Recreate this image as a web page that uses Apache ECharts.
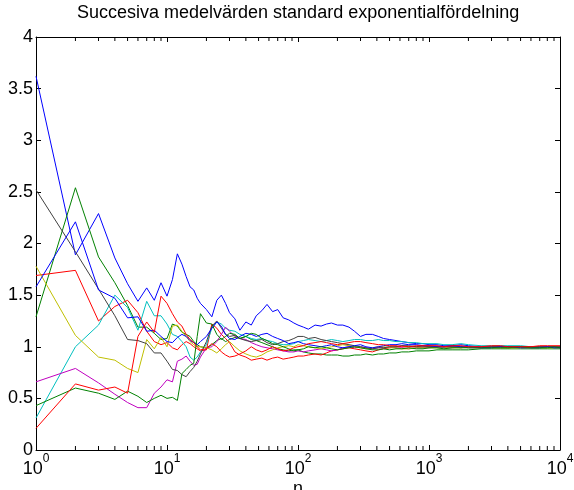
<!DOCTYPE html>
<html>
<head>
<meta charset="utf-8">
<script src="https://cdn.jsdelivr.net/npm/echarts@6/dist/echarts.min.js"></script>
<style>
  html, body { margin: 0; padding: 0; background: #fff; }
  #chart { width: 574px; height: 490px; }
</style>
</head>
<body>
<div id="chart"></div>
<script>
var nValues = [1, 2, 3, 4, 5, 6, 7, 8, 9, 10,
  11, 12, 13, 14, 15, 16, 17, 18, 20, 22,
  24, 26, 28, 30, 33, 36, 40, 44, 48, 53,
  58, 64, 70, 77, 85, 93, 100, 110, 120, 135,
  150, 165, 180, 200, 220, 245, 270, 300, 330, 370,
  410, 450, 500, 560, 620, 700, 800, 900, 1000, 1150,
  1300, 1500, 1750, 2000, 2500, 3000, 3500, 4000, 5000, 6000,
  7000, 8000, 9000, 10000];

var blue1 = [3.62, 1.89, 2.29, 1.86, 1.61, 1.44, 1.57, 1.45, 1.62, 1.49,
  1.65, 1.90, 1.80, 1.68, 1.58, 1.55, 1.47, 1.42, 1.36, 1.29,
  1.45, 1.50, 1.42, 1.33, 1.27, 1.16, 1.24, 1.21, 1.30, 1.35,
  1.41, 1.34, 1.36, 1.28, 1.26, 1.23, 1.21, 1.19, 1.17, 1.21,
  1.20, 1.22, 1.23, 1.21, 1.21, 1.19, 1.15, 1.10, 1.12, 1.12,
  1.10, 1.08, 1.07, 1.06, 1.05, 1.04, 1.03, 1.03, 1.02, 1.02,
  1.01, 1.01, 1.02, 1.01, 1.00, 1.00, 1.00, 0.99, 1.00, 1.00,
  1.00, 1.00, 1.00, 1.00];

var green1 = [1.29, 2.54, 1.87, 1.62, 1.40, 1.19, 1.19, 1.13, 1.07, 1.08,
  1.22, 1.20, 1.14, 1.12, 1.10, 1.05, 1.02, 1.00, 0.99, 1.02,
  1.06, 1.08, 1.05, 1.07, 1.09, 1.08, 1.10, 1.07, 1.06, 1.04,
  1.02, 1.00, 0.98, 0.97, 0.96, 0.97, 0.97, 0.95, 0.94, 0.93,
  0.93, 0.92, 0.92, 0.92, 0.91, 0.91, 0.92, 0.92, 0.93, 0.92,
  0.93, 0.93, 0.94, 0.94, 0.95, 0.95, 0.96, 0.96, 0.96, 0.97,
  0.97, 0.97, 0.97, 0.97, 0.98, 0.98, 0.98, 0.98, 0.98, 0.98,
  0.98, 0.98, 0.98, 0.98];

var red1 = [1.69, 1.74, 1.25, 1.39, 1.45, 1.33, 1.15, 1.05, 1.02, 1.04,
  0.99, 0.97, 1.02, 1.05, 1.03, 1.00, 0.98, 0.96, 0.97, 1.22,
  1.18, 1.12, 1.08, 1.04, 0.95, 0.92, 0.90, 0.87, 0.88, 0.89,
  0.87, 0.89, 0.90, 0.88, 0.89, 0.90, 0.91, 0.91, 0.92, 0.93,
  0.92, 0.94, 0.96, 0.97, 0.98, 0.99, 0.98, 0.97, 0.96, 0.95,
  0.97, 0.98, 0.99, 1.00, 1.01, 1.00, 1.00, 1.01, 1.00, 1.00,
  1.00, 1.00, 0.99, 1.00, 1.00, 1.00, 1.00, 1.00, 1.00, 1.00,
  1.00, 1.00, 1.00, 1.00];

var cyan1 = [0.31, 1.00, 1.21, 1.50, 1.38, 1.16, 1.44, 1.30, 1.30, 1.22,
  1.12, 1.10, 1.05, 1.00, 0.90, 0.87, 0.90, 0.95, 1.02, 1.18,
  1.24, 1.22, 1.18, 1.16, 1.15, 1.12, 1.10, 1.08, 1.07, 1.08,
  1.06, 1.05, 1.03, 1.02, 1.02, 1.03, 1.05, 1.06, 1.07, 1.06,
  1.05, 1.06, 1.07, 1.06, 1.05, 1.06, 1.07, 1.07, 1.06, 1.06,
  1.07, 1.06, 1.06, 1.05, 1.05, 1.04, 1.04, 1.03, 1.03, 1.03,
  1.02, 1.02, 1.03, 1.02, 1.01, 1.01, 1.01, 1.01, 1.01, 1.00,
  1.00, 1.00, 1.00, 1.00];

var magenta1 = [0.66, 0.79, 0.65, 0.54, 0.46, 0.41, 0.41, 0.55, 0.61, 0.68,
  0.66, 0.86, 0.88, 0.91, 0.86, 0.82, 0.83, 0.90, 0.99, 1.00,
  1.05, 1.12, 1.19, 1.15, 1.10, 1.08, 1.07, 1.04, 1.02, 1.00,
  0.99, 0.98, 0.97, 0.96, 0.95, 0.95, 0.96, 0.95, 0.96, 0.97,
  0.98, 0.97, 0.96, 0.97, 0.99, 1.00, 0.99, 1.00, 0.99, 0.98,
  0.99, 0.99, 1.00, 0.99, 0.99, 0.98, 0.99, 0.99, 0.99, 1.00,
  0.99, 0.99, 1.00, 1.00, 1.00, 1.00, 0.99, 1.00, 1.00, 1.00,
  1.00, 1.00, 1.00, 1.00];

var yellow1 = [1.78, 1.11, 0.90, 0.87, 0.79, 0.75, 1.07, 0.98, 1.09, 1.00,
  1.20, 1.21, 1.15, 1.10, 1.05, 1.02, 1.00, 1.00, 0.99, 0.97,
  0.94, 0.98, 1.02, 1.05, 1.00, 0.96, 0.93, 0.91, 0.90, 0.92,
  0.95, 0.97, 0.99, 1.00, 1.01, 1.00, 1.02, 1.01, 1.00, 0.99,
  0.98, 0.99, 1.00, 1.01, 1.02, 1.01, 1.00, 0.99, 0.98, 0.99,
  1.00, 1.00, 0.99, 0.99, 0.98, 0.98, 0.99, 0.99, 0.99, 0.99,
  0.99, 0.99, 0.99, 1.00, 0.99, 0.99, 0.99, 0.99, 0.99, 0.99,
  0.99, 0.99, 0.99, 0.99];

var black1 = [2.52, 1.92, 1.56, 1.30, 1.07, 1.06, 1.03, 0.94, 0.94, 0.86,
  0.78, 0.77, 0.73, 0.71, 0.76, 0.80, 0.86, 0.93, 1.05, 1.20,
  1.25, 1.18, 1.12, 1.10, 1.11, 1.08, 1.06, 1.05, 1.06, 1.07,
  1.04, 1.02, 1.03, 1.05, 1.06, 1.08, 1.10, 1.10, 1.08, 1.09,
  1.07, 1.06, 1.05, 1.04, 1.03, 1.02, 1.01, 1.00, 0.99, 0.98,
  0.99, 0.99, 1.00, 1.00, 1.01, 1.01, 1.00, 1.00, 1.00, 1.00,
  1.00, 1.00, 1.00, 0.99, 0.99, 1.00, 1.00, 1.00, 1.00, 1.00,
  1.00, 1.00, 1.00, 1.00];

var blue2 = [1.58, 2.21, 1.55, 1.47, 1.28, 1.29, 1.15, 1.16, 1.10, 1.05,
  1.04, 1.09, 1.12, 1.10, 1.06, 1.04, 1.02, 1.05, 1.10, 1.18,
  1.24, 1.20, 1.12, 1.08, 1.07, 1.10, 1.13, 1.12, 1.10, 1.12,
  1.13, 1.10, 1.08, 1.06, 1.03, 1.04, 1.05, 1.03, 1.02, 1.01,
  1.00, 1.01, 1.02, 1.00, 0.99, 1.00, 1.01, 1.02, 1.00, 0.99,
  1.00, 1.01, 1.02, 1.02, 1.03, 1.02, 1.02, 1.01, 1.01, 1.00,
  1.00, 1.01, 1.00, 1.00, 0.99, 0.99, 1.00, 1.00, 0.99, 0.99,
  0.99, 1.00, 0.99, 0.99];

var green2 = [0.43, 0.60, 0.55, 0.49, 0.57, 0.52, 0.46, 0.50, 0.53, 0.50,
  0.51, 0.48, 0.74, 0.78, 0.82, 0.84, 1.10, 1.32, 1.23, 1.22,
  1.12, 1.07, 1.10, 1.13, 1.12, 1.08, 1.10, 1.13, 1.12, 1.08,
  1.06, 1.03, 1.02, 1.00, 0.98, 0.96, 0.97, 0.98, 1.00, 0.99,
  1.00, 0.99, 0.98, 0.97, 0.98, 0.99, 1.00, 0.99, 0.98, 0.97,
  0.97, 0.98, 0.97, 0.98, 0.98, 0.99, 0.98, 0.98, 0.99, 0.99,
  0.98, 0.99, 0.99, 0.99, 0.99, 0.99, 0.99, 0.99, 1.00, 0.99,
  0.99, 0.99, 1.00, 0.99];

var red2 = [0.21, 0.64, 0.58, 0.61, 0.55, 1.10, 1.24, 1.14, 1.49, 1.42,
  1.32, 1.24, 1.20, 1.12, 1.07, 1.04, 1.00, 0.97, 0.98, 1.03,
  1.00, 0.95, 0.92, 0.90, 0.91, 0.93, 0.96, 1.00, 0.97, 0.95,
  0.97, 1.00, 0.98, 0.96, 0.97, 0.99, 1.00, 1.01, 1.03, 1.04,
  1.05, 1.04, 1.03, 1.02, 1.03, 1.04, 1.05, 1.05, 1.04, 1.03,
  1.02, 1.02, 1.01, 1.01, 1.00, 1.00, 1.01, 1.01, 1.01, 1.01,
  1.00, 1.01, 1.01, 1.00, 1.00, 1.01, 1.01, 1.00, 1.00, 1.00,
  1.01, 1.01, 1.01, 1.01];

// plot order and colours as in the figure
var runs = [blue1, green1, red1, cyan1, magenta1, yellow1, black1, blue2, green2, red2];
var runColors = ['#0000ff', '#008000', '#ff0000', '#00bfbf', '#bf00bf', '#bfbf00', '#404040', '#0000ff', '#008000', '#ff0000'];
var minorTickSteps = [2, 3, 4, 5, 6, 7, 8, 9];
var decades = [1, 10, 100, 1000];

var font = 'Liberation Sans, Arial, Helvetica, sans-serif';

var myChart = echarts.init(document.getElementById('chart'));

var series = runs.map(function (vals, i) {
  return {
    type: 'line',
    data: nValues.map(function (n, j) { return [n, vals[j]]; }),
    showSymbol: false,
    symbol: 'none',
    lineStyle: { color: runColors[i], width: 1 },
    itemStyle: { color: runColors[i] },
    emphasis: { disabled: true },
    animation: false
  };
});

var axisLine = { show: true, onZero: false, lineStyle: { color: '#000', width: 1 } };
var tick = { show: true, inside: true, length: 5, lineStyle: { color: '#000', width: 1 } };

myChart.setOption({
  animation: false,
  textStyle: { fontFamily: font },
  title: {
    text: 'Succesiva medelvärden standard exponentialfördelning',
    left: 77,
    top: 4,
    padding: 0,
    textStyle: { fontSize: 18, fontWeight: 'normal', color: '#000', fontFamily: font }
  },
  grid: { left: 36, right: 14, top: 37, bottom: 40, outerBoundsMode: 'none', containLabel: false },
  xAxis: [{
    type: 'log',
    logBase: 10,
    min: 1,
    max: 10000,
    position: 'bottom',
    axisLine: axisLine,
    axisTick: tick,
    splitLine: { show: false },
    axisLabel: {
      margin: 3,
      formatter: function (v) {
        return '{b|10}{s|' + Math.round(Math.log10(v)) + '}';
      },
      rich: {
        b: { fontSize: 18, color: '#000', fontFamily: font, padding: [7, 0, 0, 0] },
        s: { fontSize: 12, color: '#000', fontFamily: font, verticalAlign: 'top' }
      }
    },
    name: 'n',
    nameLocation: 'middle',
    nameGap: 30,
    nameMoveOverlap: false,
    nameTextStyle: { fontSize: 18, color: '#000', fontFamily: font }
  }, {
    type: 'log',
    logBase: 10,
    min: 1,
    max: 10000,
    position: 'top',
    axisLine: axisLine,
    axisTick: tick,
    axisLabel: { show: false },
    splitLine: { show: false }
  }],
  yAxis: [{
    type: 'value',
    min: 0,
    max: 4,
    interval: 0.5,
    position: 'left',
    axisLine: axisLine,
    axisTick: tick,
    splitLine: { show: false },
    axisLabel: { fontSize: 18, color: '#000', margin: 3, fontFamily: font }
  }, {
    type: 'value',
    min: 0,
    max: 4,
    interval: 0.5,
    position: 'right',
    axisLine: axisLine,
    axisTick: tick,
    splitLine: { show: false },
    axisLabel: { show: false }
  }],
  series: series
});

// minor ticks at 2..9 of each decade, top and bottom, through the log scale
var yBottom = myChart.convertToPixel({ yAxisIndex: 0 }, 0);
var yTop = myChart.convertToPixel({ yAxisIndex: 0 }, 4);
var minorTicks = [];
decades.forEach(function (d) {
  minorTickSteps.forEach(function (k) {
    var px = myChart.convertToPixel({ xAxisIndex: 0 }, d * k);
    minorTicks.push({
      type: 'line', silent: true,
      shape: { x1: px, y1: yBottom, x2: px, y2: yBottom - 4 },
      style: { stroke: '#000', lineWidth: 1 }
    });
    minorTicks.push({
      type: 'line', silent: true,
      shape: { x1: px, y1: yTop, x2: px, y2: yTop + 4 },
      style: { stroke: '#000', lineWidth: 1 }
    });
  });
});
myChart.setOption({ graphic: minorTicks });
</script>
</body>
</html>
